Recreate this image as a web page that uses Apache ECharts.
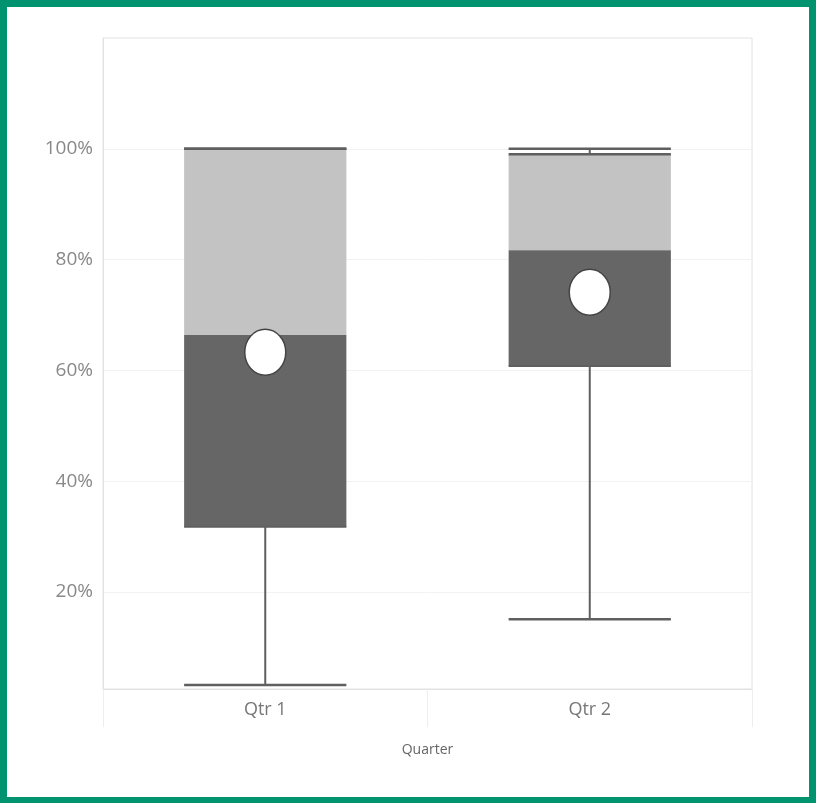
<!DOCTYPE html>
<html>
<head>
<meta charset="utf-8">
<script src="https://cdn.jsdelivr.net/npm/echarts@6/dist/echarts.min.js"></script>
<style>
  html, body { margin: 0; padding: 0; background: #fff; }
  #box-chart { width: 816px; height: 803px; }
  .frame {
    position: absolute; left: 0; top: 0; width: 816px; height: 803px;
    box-sizing: border-box; border: solid #00936f;
    border-width: 7px 7px 6px 7px; pointer-events: none;
  }
</style>
</head>
<body>
<div id="box-chart"></div>
<div class="frame"></div>
<script>
// quartile data
var categories = ["Qtr 1", "Qtr 2"];
var whiskerLow = [0.032, 0.151];
var q1 = [0.318, 0.608];
var median = [0.664, 0.817];
var q3 = [1.0, 0.99];
var whiskerHigh = [1.0, 1.0];
var mean = [0.633, 0.741];
var tickValues = [0.2, 0.4, 0.6, 0.8, 1.0];

var lineColor = "#5f5f5f";
var lightFill = "#c3c3c3";
var darkFill = "#666666";

var rows = [];
for (var i = 0; i < categories.length; i++) {
  rows.push([i, whiskerLow[i], q1[i], median[i], q3[i], whiskerHigh[i], mean[i]]);
}

function renderBox(params, api) {
  var idx = api.value(0);
  var pLow = api.coord([idx, api.value(1)]);
  var pQ1 = api.coord([idx, api.value(2)]);
  var pMed = api.coord([idx, api.value(3)]);
  var pQ3 = api.coord([idx, api.value(4)]);
  var pHigh = api.coord([idx, api.value(5)]);
  var pMean = api.coord([idx, api.value(6)]);
  var w = api.size([1, 0])[0] * 0.5;
  var cx = pQ1[0];
  var x0 = cx - w / 2;

  function hline(y, lw) {
    return { type: "line", shape: { x1: x0, y1: y, x2: x0 + w, y2: y },
      style: { stroke: lineColor, lineWidth: lw } };
  }
  function vline(ya, yb) {
    return { type: "line", shape: { x1: cx, y1: ya, x2: cx, y2: yb },
      style: { stroke: lineColor, lineWidth: 2 } };
  }

  return {
    type: "group",
    children: [
      vline(pQ1[1], pLow[1]),
      vline(pHigh[1], pQ3[1]),
      // upper half of box (median -> q3)
      { type: "rect", shape: { x: x0, y: pQ3[1], width: w, height: pMed[1] - pQ3[1] },
        style: { fill: lightFill } },
      // lower half of box (q1 -> median)
      { type: "rect", shape: { x: x0, y: pMed[1], width: w, height: pQ1[1] - pMed[1] },
        style: { fill: darkFill } },
      hline(pQ1[1], 2),
      hline(pQ3[1], 2.5),
      hline(pLow[1], 2.5),
      hline(pHigh[1], 2.5),
      { type: "ellipse", shape: { cx: cx, cy: pMean[1], rx: 20.5, ry: 23 },
        style: { fill: "#fff", stroke: "#444", lineWidth: 1.5 }, z2: 10 }
    ]
  };
}

var chart = echarts.init(document.getElementById("box-chart"));
var option = {
  animation: false,
  textStyle: { fontFamily: "Open Sans" },
  grid: {
    left: 103, top: 38, right: 64, bottom: 114,
    show: true, borderColor: "#e2e2e2", borderWidth: 1
  },
  xAxis: {
    type: "category",
    data: categories,
    name: "Quarter",
    nameLocation: "middle",
    nameGap: 54,
    nameTextStyle: { color: "#666", fontSize: 14 },
    axisLine: { lineStyle: { color: "#e2e2e2" } },
    axisTick: { show: true, length: 38, lineStyle: { color: "#eeeeee" } },
    axisLabel: { color: "#777", fontSize: 18, margin: 12 }
  },
  yAxis: {
    type: "value",
    min: 0.025,
    max: 1.2,
    axisLine: { show: true, lineStyle: { color: "#e2e2e2" } },
    axisTick: { show: false, customValues: tickValues },
    axisLabel: {
      customValues: tickValues,
      color: "#888", fontSize: 19, margin: 10,
      formatter: function (v) { return Math.round(v * 100) + "%"; }
    },
    splitLine: { show: true, lineStyle: { color: "#f2f2f2" } }
  },
  series: [{
    type: "custom",
    renderItem: renderBox,
    encode: { x: 0, y: [1, 2, 3, 4, 5, 6] },
    data: rows
  }]
};
chart.setOption(option);
</script>
</body>
</html>
